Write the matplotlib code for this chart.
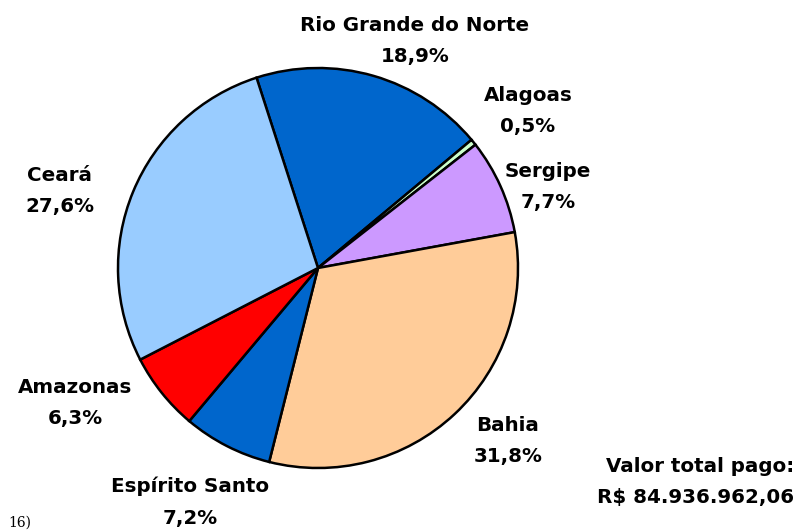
import matplotlib
matplotlib.use("Agg")
import matplotlib.pyplot as plt

states = ["Rio Grande do Norte", "Alagoas", "Sergipe", "Bahia",
          "Espírito Santo", "Amazonas", "Ceará"]
shares = [18.9, 0.5, 7.7, 31.8, 7.2, 6.3, 27.6]
pct_labels = ["18,9%", "0,5%", "7,7%", "31,8%", "7,2%", "6,3%", "27,6%"]
colors = ["#0066CC", "#CCFFCC", "#CC99FF", "#FFCC99", "#0066CC", "#FF0000", "#99CCFF"]
total_label = "Valor total pago:\nR$ 84.936.962,06"

# label centres in pixel coords (x, y from top)
label_pos = [(415, 41), (528, 111), (548, 187), (508, 441),
             (190, 502), (75, 403), (60, 191)]

W, H = 800, 531
fig = plt.figure(figsize=(8, 5.31), dpi=100)
ax = fig.add_axes([0, 0, 1, 1])
ax.set_xlim(0, W)
ax.set_ylim(0, H)
ax.set_aspect("equal")
ax.axis("off")

cx, cy, r = 318, H - 268, 200
ax.pie(shares, colors=colors, startangle=107.9, counterclock=False,
       center=(cx, cy), radius=r, frame=True,
       wedgeprops=dict(edgecolor="black", linewidth=1.8))
ax.set_xlim(0, W)
ax.set_ylim(0, H)
ax.axis("off")

for name, pct, (x, y) in zip(states, pct_labels, label_pos):
    ax.text(x, H - y, f"{name}\n{pct}", ha="center", va="center",
            fontsize=14.3, fontweight="bold", family="DejaVu Sans",
            linespacing=1.85)

ax.text(794, H - 482, total_label, ha="right", va="center", fontsize=14.3,
        fontweight="bold", family="DejaVu Sans", linespacing=1.75)

ax.text(8, 1, "16)", ha="left", va="bottom", fontsize=10,
        family="DejaVu Serif")

fig.savefig("out.png", dpi=100)
